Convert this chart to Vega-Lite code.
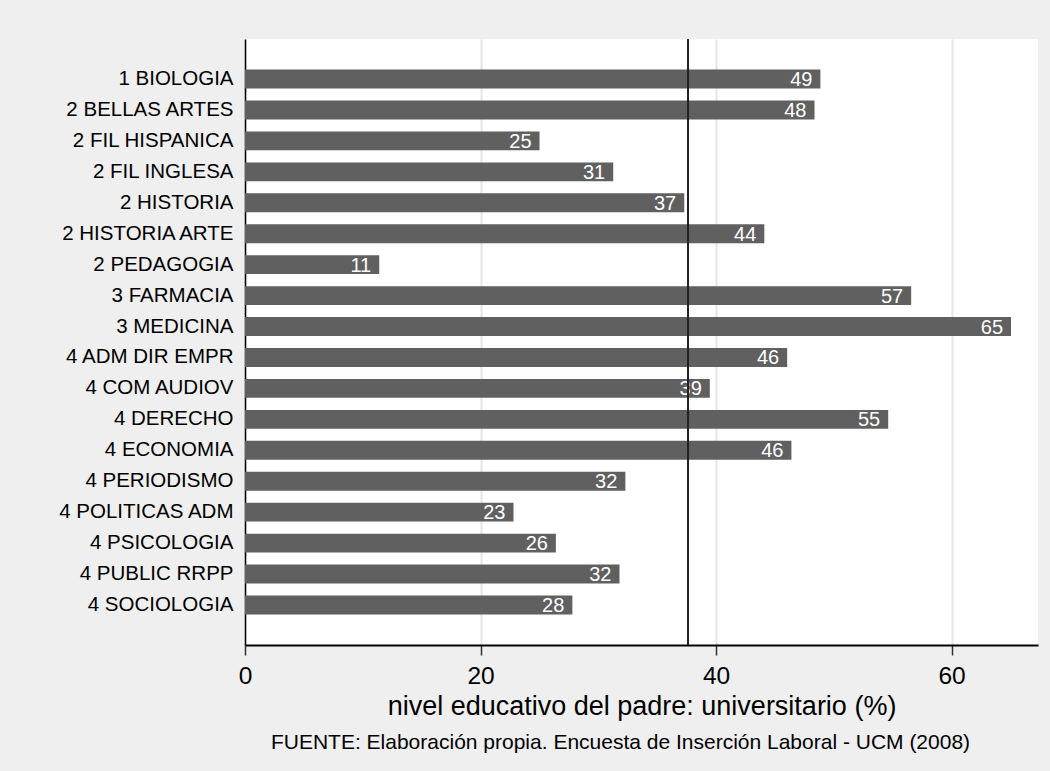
{
  "$schema": "https://vega.github.io/schema/vega-lite/v6.json",
  "autosize": "none",
  "width": 793,
  "height": 606,
  "padding": {"left": 245, "top": 39, "right": 12, "bottom": 126},
  "background": "#EFEFEF",
  "config": {
    "font": "Liberation Sans",
    "view": {"fill": "#FFFFFF", "stroke": null}
  },
  "title": {
    "text": "FUENTE: Elaboración propia. Encuesta de Inserción Laboral - UCM (2008)",
    "orient": "bottom",
    "anchor": "middle",
    "frame": "group",
    "dx": -21,
    "offset": 12,
    "fontSize": 21,
    "fontWeight": "normal",
    "font": "Liberation Sans",
    "color": "#000000"
  },
  "data": {
    "values": [
      {"carrera": "1 BIOLOGIA", "pct": 48.86},
      {"carrera": "2 BELLAS ARTES", "pct": 48.36},
      {"carrera": "2 FIL HISPANICA", "pct": 25.01},
      {"carrera": "2 FIL INGLESA", "pct": 31.27},
      {"carrera": "2 HISTORIA", "pct": 37.3},
      {"carrera": "2 HISTORIA ARTE", "pct": 44.1},
      {"carrera": "2 PEDAGOGIA", "pct": 11.4},
      {"carrera": "3 FARMACIA", "pct": 56.57},
      {"carrera": "3 MEDICINA", "pct": 65.05},
      {"carrera": "4 ADM DIR EMPR", "pct": 46.04},
      {"carrera": "4 COM AUDIOV", "pct": 39.47},
      {"carrera": "4 DERECHO", "pct": 54.62},
      {"carrera": "4 ECONOMIA", "pct": 46.4},
      {"carrera": "4 PERIODISMO", "pct": 32.3},
      {"carrera": "4 POLITICAS ADM", "pct": 22.8},
      {"carrera": "4 PSICOLOGIA", "pct": 26.4},
      {"carrera": "4 PUBLIC RRPP", "pct": 31.8},
      {"carrera": "4 SOCIOLOGIA", "pct": 27.8}
    ]
  },
  "encoding": {
    "y": {
      "field": "carrera",
      "type": "nominal",
      "sort": null,
      "scale": {"paddingInner": 0.39, "paddingOuter": 0.99},
      "axis": {
        "title": null,
        "ticks": false,
        "labelPadding": 12,
        "labelFontSize": 20.5,
        "labelColor": "#000000",
        "labelFont": "Liberation Sans",
        "domainColor": "#000000",
        "domainWidth": 1.5
      }
    },
    "x": {
      "field": "pct",
      "type": "quantitative",
      "scale": {"domain": [0, 67.34], "nice": false, "zero": true},
      "axis": {
        "values": [0, 20, 40, 60],
        "title": "nivel educativo del padre: universitario (%)",
        "titleFontSize": 27,
        "titleFontWeight": "normal",
        "titleColor": "#000000",
        "titlePadding": 6,
        "titleFont": "Liberation Sans",
        "labelFontSize": 24.5,
        "labelColor": "#000000",
        "labelFont": "Liberation Sans",
        "labelPadding": 9,
        "labelFlush": false,
        "tickSize": 10,
        "tickColor": "#333333",
        "tickWidth": 1.5,
        "domainColor": "#000000",
        "domainWidth": 2,
        "grid": true,
        "gridColor": "#E6E6E6",
        "gridWidth": 2
      }
    }
  },
  "layer": [
    {
      "mark": {"type": "bar", "color": "#606060"}
    },
    {
      "mark": {
        "type": "text",
        "align": "right",
        "baseline": "middle",
        "dx": -8,
        "dy": 1,
        "color": "#FFFFFF",
        "fontSize": 20,
        "font": "Liberation Sans"
      },
      "encoding": {
        "text": {"field": "pct", "type": "quantitative", "format": ".0f"}
      }
    },
    {
      "data": {"values": [{"media": 37.62}]},
      "mark": {"type": "rule", "color": "#222222", "strokeWidth": 2},
      "encoding": {
        "x": {"field": "media", "type": "quantitative"},
        "y": null
      }
    }
  ]
}
